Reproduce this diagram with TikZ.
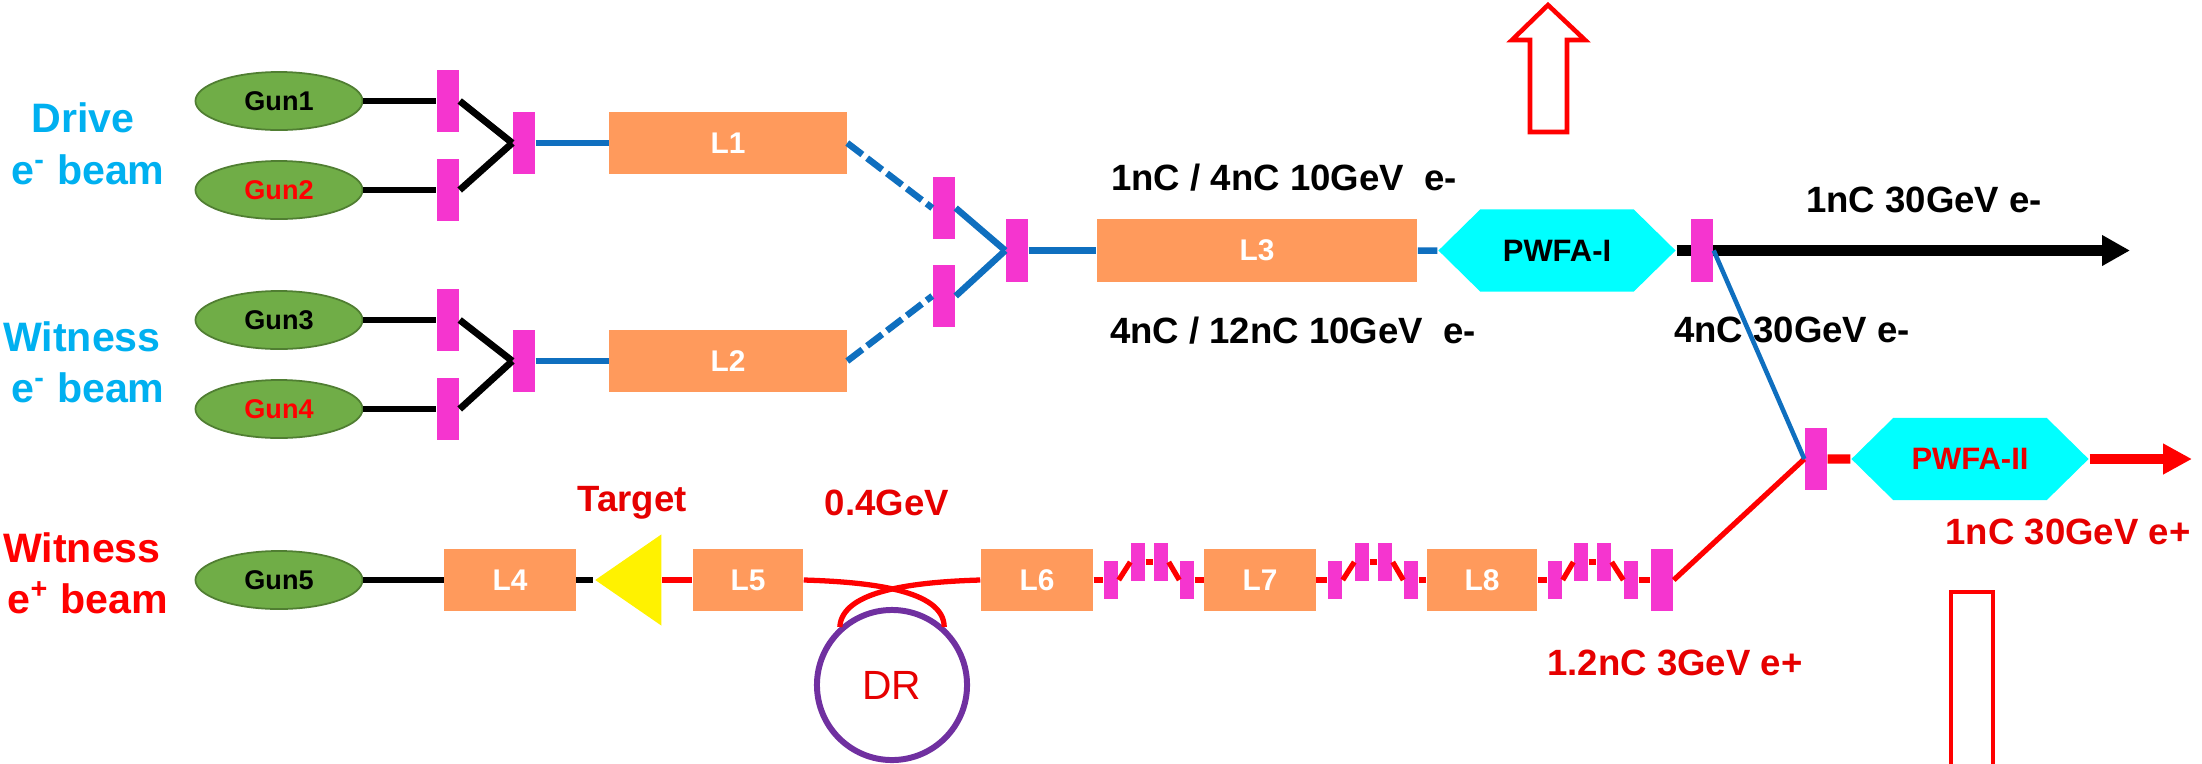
\documentclass[tikz,border=0pt]{standalone}
\usepackage{fontspec}
\setmainfont{Liberation Sans}
\usepackage{xcolor}
\usepackage{tikz}
\usetikzlibrary{shapes,arrows.meta}

\definecolor{gungreen}{HTML}{70AD47}
\definecolor{gunedge}{HTML}{507E32}
\definecolor{linacorange}{HTML}{FF9A5C}
\definecolor{kickerpink}{HTML}{F535CF}
\definecolor{beamblue}{HTML}{0F6FBF}
\definecolor{textblue}{HTML}{00B0F0}
\definecolor{ringpurple}{HTML}{7030A0}
\definecolor{plasmacyan}{HTML}{00FFFF}
\definecolor{darkred}{HTML}{E60000}

\begin{document}
\begin{tikzpicture}[x=0.01cm, y=-0.01cm]
  \tikzstyle{gun} = [ellipse, draw=gunedge, line width=0.5pt, fill=gungreen, minimum width=1.67cm, minimum height=0.58cm, inner sep=0pt, font=\fontsize{7.7}{9}\selectfont\bfseries]
  \tikzstyle{linac} = [rectangle, fill=linacorange, text=white, minimum height=0.62cm, inner sep=0pt, font=\fontsize{8.5}{10}\selectfont\bfseries]
  \tikzstyle{bar} = [rectangle, fill=kickerpink, minimum width=0.22cm, minimum height=0.62cm, inner sep=0pt]
  \tikzstyle{kink} = [rectangle, fill=kickerpink, minimum width=0.14cm, minimum height=0.38cm, inner sep=0pt]
  \tikzstyle{plasma} = [signal, signal to=east and west, signal pointer angle=89, fill=plasmacyan, minimum width=2.37cm, minimum height=0.82cm, inner sep=0pt, font=\fontsize{8.8}{10}\selectfont\bfseries]
  \tikzstyle{beamname} = [font=\fontsize{11.7}{14}\selectfont\bfseries]
  \tikzstyle{note} = [font=\fontsize{10.4}{12}\selectfont\bfseries]
  \tikzstyle{hollow} = [draw=red, line width=1.3pt, fill=white, miter limit=10]
  \tikzstyle{blackline} = [draw, black, line width=1.95pt]
  \tikzstyle{blueline} = [draw, beamblue, line width=1.85pt]
  \tikzstyle{redline} = [draw, red, line width=1.5pt]

  \clip (0,0) rectangle (2202,763);

  % beam names
  \node [beamname, textblue] (drive) at (83,118) {Drive};
  \node [beamname, textblue] (drivee) at (88,170) {e\textsuperscript{-} beam};
  \node [beamname, textblue] (witness) at (82,337) {Witness};
  \node [beamname, textblue] (witnesse) at (88,388) {e\textsuperscript{-} beam};
  \node [beamname, red] (positron) at (82,548) {Witness};
  \node [beamname, red] (positrone) at (88,598) {e\textsuperscript{+} beam};

  % guns
  \node [gun] (gun1) at (279,101) {Gun1};
  \node [gun, text=red] (gun2) at (279,190) {Gun2};
  \node [gun] (gun3) at (279,320) {Gun3};
  \node [gun, text=red] (gun4) at (279,409) {Gun4};
  \node [gun] (gun5) at (279,580) {Gun5};

  % electron side
  \node [bar] (bar1) at (448,101) {};
  \node [bar] (bar2) at (448,190) {};
  \node [bar] (bar3) at (524,143) {};
  \node [bar] (bar4) at (448,320) {};
  \node [bar] (bar5) at (448,409) {};
  \node [bar] (bar6) at (524,361) {};
  \node [linac, minimum width=2.37cm] (l1) at (728,143) {L1};
  \node [linac, minimum width=2.37cm] (l2) at (728,361) {L2};
  \node [bar] (bar7) at (944,208) {};
  \node [bar] (bar8) at (944,296) {};
  \node [bar] (bar9) at (1017,250.5) {};
  \node [linac, minimum width=3.2cm] (l3) at (1257,250.5) {L3};
  \node [plasma] (pwfa1) at (1557,250.5) {PWFA-I};

  % positron side
  \node [linac, minimum width=1.31cm] (l4) at (510,580) {L4};
  \node [isosceles triangle, isosceles triangle stretches, shape border rotate=180, fill=yellow, minimum width=0.91cm, minimum height=0.66cm, inner sep=0pt, anchor=lower side] (target) at (662,580) {};
  \node [linac, minimum width=1.1cm] (l5) at (748,580) {L5};
  \node [linac, minimum width=1.12cm] (l6) at (1037,580) {L6};
  \node [linac, minimum width=1.11cm] (l7) at (1260,580) {L7};
  \node [linac, minimum width=1.1cm] (l8) at (1482,580) {L8};
  \node [kink] (k1) at (1111,580) {};
  \node [kink] (k2) at (1138,562) {};
  \node [kink] (k3) at (1161,562) {};
  \node [kink] (k4) at (1187,580) {};
  \node [kink] (k5) at (1335,580) {};
  \node [kink] (k6) at (1362,562) {};
  \node [kink] (k7) at (1385,562) {};
  \node [kink] (k8) at (1411,580) {};
  \node [kink] (k9) at (1555,580) {};
  \node [kink] (k10) at (1581,562) {};
  \node [kink] (k11) at (1604,562) {};
  \node [kink] (k12) at (1631,580) {};
  \node [bar] (bar10) at (1662,580) {};
  \node [bar] (bar12) at (1816,459) {};
  \node [plasma, text=darkred] (pwfa2) at (1970,459) {PWFA-II};
  \node [circle, draw=ringpurple, line width=1.7pt, minimum size=1.5cm, inner sep=0pt, text=darkred, font=\fontsize{11.6}{14}\selectfont] (dr) at (892,685) {DR};

  % labels
  \node [note] (lab1) at (1284,178) {1nC / 4nC 10GeV\ \ e-};
  \node [note] (lab2) at (1293,331) {4nC / 12nC 10GeV\ \ e-};
  \node [note] (lab3) at (1924,200) {1nC 30GeV e-};
  \node [note] (lab4) at (1792,330) {4nC 30GeV e-};
  \node [note, darkred] (lab5) at (632,503) {Target};
  \node [note, darkred] (lab6) at (887,503) {0.4GeV};
  \node [note, darkred] (lab7) at (1675,663) {1.2nC 3GeV e+};
  \node [note, darkred] (lab8) at (2068,532) {1nC 30GeV e+};

  % big hollow arrows
  \path [hollow] (1530,132) -- (1530,40) -- (1512,40) -- (1548,5) -- (1585,40) -- (1567,40) -- (1567,132) -- cycle;
  \path [hollow] (1951,780) -- (1951,592) -- (1993,592) -- (1993,780);

  % ends of the two outgoing beams
  \coordinate (out1) at (2130,250.5);
  \coordinate (out2) at (2192,459);

  % guns to first dipoles
  \path [blackline] (gun1) -- (bar1);
  \path [blackline] (gun2) -- (bar2);
  \path [blackline] (gun3) -- (bar4);
  \path [blackline] (gun4) -- (bar5);
  \path [blackline] (bar1.east) -- (bar3.west);
  \path [blackline] (bar2.east) -- (bar3.west);
  \path [blackline] (bar4.east) -- (bar6.west);
  \path [blackline] (bar5.east) -- (bar6.west);
  \path [blueline] (bar3) -- (l1);
  \path [blueline] (bar6) -- (l2);
  \path [blueline, dash pattern=on 5.4pt off 1.7pt] (l1.east) -- (bar7.west);
  \path [blueline, dash pattern=on 5.4pt off 1.7pt] (l2.east) -- (bar8.west);
  \path [blueline] (bar7.east) -- (bar9.west);
  \path [blueline] (bar8.east) -- (bar9.west);
  \path [blueline] (bar9) -- (l3);
  \path [blueline] (l3) -- (pwfa1);

  % positron line
  \path [blackline] (gun5) -- (l4);
  \path [blackline] (l4) -- (target.apex);
  \path [redline] (target.lower side) -- (l5);
  \path [redline] (l5.east) .. controls (870,582) and (944,590) .. (dr.48);
  \path [redline] (l6.west) .. controls (915,582) and (842,590) .. (dr.132);
  \path [redline] (l6) -- (k1);
  \path [redline] (k1.east) -- (k2.west);
  \path [redline] (k2) -- (k3);
  \path [redline] (k3.east) -- (k4.west);
  \path [redline] (k4) -- (l7);
  \path [redline] (l7) -- (k5);
  \path [redline] (k5.east) -- (k6.west);
  \path [redline] (k6) -- (k7);
  \path [redline] (k7.east) -- (k8.west);
  \path [redline] (k8) -- (l8);
  \path [redline] (l8) -- (k9);
  \path [redline] (k9.east) -- (k10.west);
  \path [redline] (k10) -- (k11);
  \path [redline] (k11.east) -- (k12.west);
  \path [redline] (k12) -- (bar10);
  \path [redline] (bar10.east) -- (bar12.west);

  % output beams
  \path [draw, line width=2.85pt, black, -{Triangle[length=0.28cm, width=0.29cm]}] (pwfa1.east) -- (out1);
  \node [bar] (bar11) at (1702,250.5) {};
  \path [draw, beamblue, line width=1.3pt] (bar11.east) -- (bar12.west);
  \path [draw, red, line width=2.6pt] (bar12) -- (pwfa2);
  \path [draw, red, line width=2.6pt, -{Triangle[length=0.29cm, width=0.29cm]}] (pwfa2.east) -- (out2);
\end{tikzpicture}
\end{document}
